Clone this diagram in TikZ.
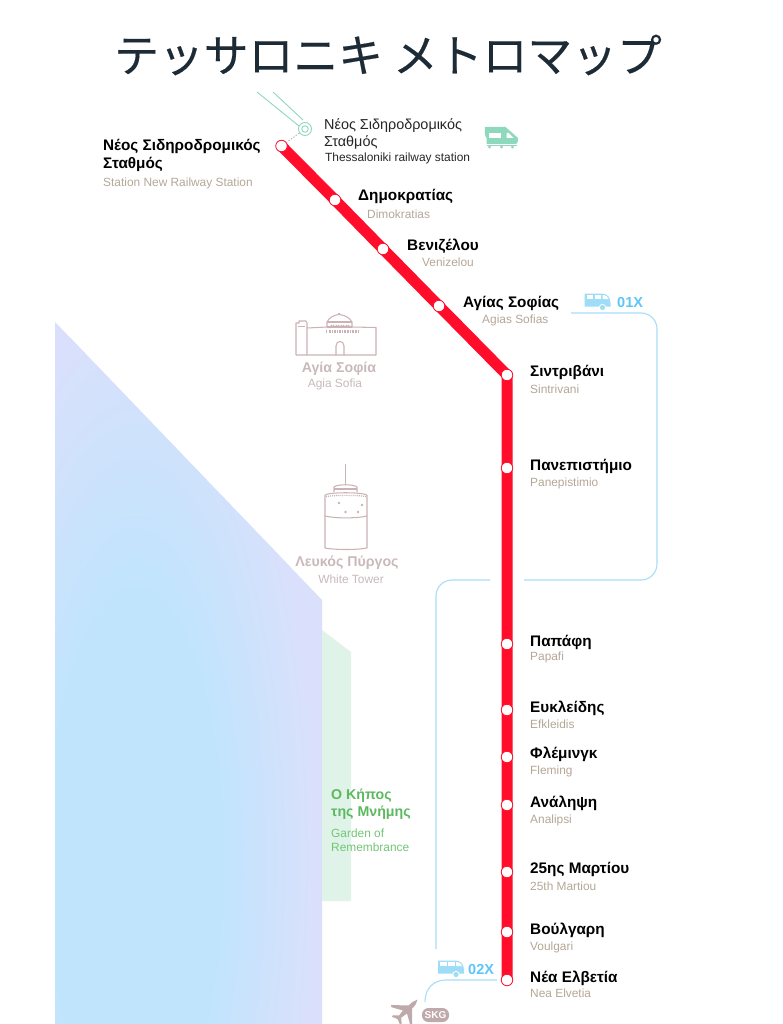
\documentclass[tikz,border=0pt]{standalone}
\usepackage{fontspec}
\setmainfont{Liberation Sans}
\newfontfamily\cjkfont[FakeBold=0.35]{Noto Sans CJK JP}
\definecolor{metrored}{HTML}{FF0D2A}
\definecolor{busblue}{HTML}{A8DEF8}
\definecolor{busicon}{HTML}{9FDCF7}
\definecolor{bustext}{HTML}{5CC6F8}
\definecolor{railgreen}{HTML}{8ED8BD}
\definecolor{tan}{HTML}{B5A797}
\definecolor{bldg}{HTML}{CBB3B5}
\definecolor{bldgtext}{HTML}{C9B9BB}
\definecolor{plane}{HTML}{BFA9AB}
\definecolor{gardenfill}{HTML}{DFF3E8}
\definecolor{gardenhead}{HTML}{5DB85F}
\definecolor{gardensub}{HTML}{74C677}
\definecolor{waterA}{HTML}{C1E4FD}
\definecolor{waterB}{HTML}{DAE0FB}
\definecolor{titleink}{HTML}{1C2B36}
\pgfdeclareradialshading{waterblob}{\pgfpoint{0bp}{0bp}}{color(0bp)=(waterA); color(12bp)=(waterA); color(25bp)=(waterB); color(50bp)=(waterB)}
\tikzset{
  metro/.style={draw=metrored,line width=11pt,line cap=round,line join=round},
  stn/.style={circle,draw=metrored,fill=white,line width=0.8pt,minimum size=11.5pt,inner sep=0pt},
  name el/.style={anchor=mid west,yshift=-2.5pt,inner sep=0pt,font=\fontsize{15.3}{17}\selectfont\bfseries,text=black},
  sub el/.style={anchor=mid west,yshift=-2.5pt,inner sep=0pt,font=\fontsize{11.9}{13}\selectfont,text=tan},
  rail el/.style={anchor=mid west,yshift=-2.5pt,inner sep=0pt,font=\fontsize{14.4}{16}\selectfont,text=black!85},
  bldg head/.style={anchor=mid,yshift=-2.5pt,inner sep=0pt,font=\fontsize{14.2}{16}\selectfont\bfseries,text=bldgtext},
  bldg sub/.style={anchor=mid,yshift=-2.5pt,inner sep=0pt,font=\fontsize{11.9}{13}\selectfont,text=bldgtext},
  garden head/.style={anchor=mid west,yshift=-2.5pt,inner sep=0pt,font=\fontsize{14.2}{16}\selectfont\bfseries,text=gardenhead},
  garden sub/.style={anchor=mid west,yshift=-2.5pt,inner sep=0pt,font=\fontsize{11.9}{13}\selectfont,text=gardensub},
  bus line/.style={draw=busblue,line width=1.1pt,rounded corners=16pt},
  bus label/.style={anchor=mid west,yshift=-2.5pt,inner sep=0pt,font=\fontsize{14.5}{16}\selectfont\bfseries,text=bustext},
  rail track/.style={draw=railgreen,line width=0.9pt},
  bldg line/.style={draw=bldg,line width=1.05pt,line join=round},
}
\newcommand{\busicon}[2]{%
  \begin{scope}[shift={(#1,#2)}]
    \fill[busicon] (0,0) -- (17,0) .. controls (23,0) and (26,4) .. (26,10) -- (26,13) -- (0,13) -- cycle;
    \fill[white] (2,1.6) rectangle (8.5,5.5);
    \fill[white] (10,1.6) rectangle (16.5,5.5);
    \fill[white] (18,1.6) -- (20,1.6) .. controls (22,2.2) and (23.5,3.8) .. (24,5.5) -- (18,5.5) -- cycle;
    \fill[white] (18,14) circle[radius=3.6];
    \fill[busicon] (18,14) circle[radius=2.6];
  \end{scope}}
\begin{document}
\begin{tikzpicture}[x=1pt,y=-1pt]
\path[use as bounding box,fill=white] (0,0) rectangle (783,1024);

% water area
\fill[waterB] (55,322) -- (322,600) -- (322,1024) -- (55,1024) -- cycle;
\begin{scope}
  \clip (55,322) -- (322,600) -- (322,1024) -- (55,1024) -- cycle;
  \shade[shading=waterblob] (135,860) ellipse [x radius=182,y radius=560];
\end{scope}
% garden
\fill[gardenfill] (322,630) -- (351,652) -- (351,901) -- (322,901) -- cycle;

% title
\node[inner sep=0pt,font=\fontsize{44.8}{50}\selectfont\cjkfont,text=titleink] (title) at (388,55) {テッサロニキ メトロマップ};

% rail link
\coordinate (ta) at (257,92);
\coordinate (tb) at (273,92);
\coordinate (tc) at (299,126);
\coordinate (td) at (303,120);
\draw[rail track] (ta) -- (tc);
\draw[rail track] (tb) -- (td);
\node[circle,draw=railgreen,fill=white,line width=0.9pt,minimum size=13pt,inner sep=0pt] (railstn) at (305,129) {};
\node[circle,draw=railgreen,line width=0.9pt,minimum size=6.5pt,inner sep=0pt] (railin) at (305,129) {};

% bus lines
\coordinate (b1a) at (571,313);
\coordinate (b1b) at (524,580);
\coordinate (b1c) at (490,580);
\coordinate (b1d) at (436,949);
\coordinate (b2a) at (497,980);
\coordinate (b2b) at (425,1002);
\draw[bus line] (b1a) -- (657,313) -- (657,580) -- (b1b);
\draw[bus line] (b1c) -- (436,580) -- (b1d);
\draw[draw=busblue,line width=1.1pt] (b2a) -- (446,980) .. controls (433,980) and (425,989) .. (b2b);

% metro line
\coordinate (s1) at (281.5,146);
\coordinate (s2) at (335,200);
\coordinate (s3) at (383,249);
\coordinate (s4) at (439,306);
\coordinate (s5) at (507,375);
\coordinate (s6) at (507,468);
\coordinate (s7) at (507,644);
\coordinate (s8) at (507,710);
\coordinate (s9) at (507,757);
\coordinate (s10) at (507,805);
\coordinate (s11) at (507,872);
\coordinate (s12) at (507,932);
\coordinate (s13) at (507,980);
\draw[metro] (s1) -- (s2) -- (s3) -- (s4) -- (s5) -- (s6) -- (s7) -- (s8) -- (s9) -- (s10) -- (s11) -- (s12) -- (s13);
\foreach \i in {1,...,13}{\node[stn] (st\i) at (s\i) {};}
\draw[gray!60,line width=0.8pt,dash pattern=on 1.5pt off 1.5pt] (railstn) -- (st1);

% station labels
\node[name el] (l1a) at (103,145) {Νέος Σιδηροδρομικός};
\node[name el] (l1b) at (103,163) {Σταθμός};
\node[sub el] (l1c) at (103,181) {Station New Railway Station};
\node[name el] (l2a) at (358,195) {Δημοκρατίας};
\node[sub el] (l2b) at (367,213) {Dimokratias};
\node[name el] (l3a) at (407,245) {Βενιζέλου};
\node[sub el] (l3b) at (422,261) {Venizelou};
\node[name el] (l4a) at (463,302) {Αγίας Σοφίας};
\node[sub el] (l4b) at (482,318) {Agias Sofias};
\node[name el] (l5a) at (530,371) {Σιντριβάνι};
\node[sub el] (l5b) at (530,388) {Sintrivani};
\node[name el] (l6a) at (530,465) {Πανεπιστήμιο};
\node[sub el] (l6b) at (530,481) {Panepistimio};
\node[name el] (l7a) at (530,641) {Παπάφη};
\node[sub el] (l7b) at (530,655) {Papafi};
\node[name el] (l8a) at (530,707) {Ευκλείδης};
\node[sub el] (l8b) at (530,723) {Efkleidis};
\node[name el] (l9a) at (530,753) {Φλέμινγκ};
\node[sub el] (l9b) at (530,769) {Fleming};
\node[name el] (l10a) at (530,802) {Ανάληψη};
\node[sub el] (l10b) at (530,818) {Analipsi};
\node[name el] (l11a) at (530,868) {25ης Μαρτίου};
\node[sub el] (l11b) at (530,885) {25th Martiou};
\node[name el] (l12a) at (530,929) {Βούλγαρη};
\node[sub el] (l12b) at (530,945) {Voulgari};
\node[name el] (l13a) at (530,977) {Νέα Ελβετία};
\node[sub el] (l13b) at (530,992) {Nea Elvetia};

% railway station text
\node[rail el] (r1) at (324,124) {Νέος Σιδηροδρομικός};
\node[rail el] (r2) at (324,141) {Σταθμός};
\node[rail el,font=\fontsize{11.9}{13}\selectfont] (r3) at (325,156) {Thessaloniki railway station};

% train icon
\begin{scope}[shift={(484.5,127)}]
  \fill[railgreen] (0.5,0) -- (21,0) -- (33.5,11) .. controls (34,13) and (33,17) .. (31,17) -- (2,17) -- (2,11) .. controls (0,9) and (0,3) .. (0.5,0) -- cycle;
  \fill[white] (4,6) rectangle (16.5,11);
  \fill[white] (22,6) -- (24,6) -- (29,11) -- (22,11) -- cycle;
  \fill[railgreen] (2,18) rectangle (32,19);
  \fill[railgreen] (5,20) circle[radius=1.6] (17,20) circle[radius=1.6] (28,20) circle[radius=1.6];
\end{scope}

% buses
\busicon{584.5}{293.5}
\node[bus label] (x1) at (617,302) {01X};
\busicon{438}{960.5}
\node[bus label] (x2) at (468,969) {02X};

% airport
\begin{scope}[shift={(405,1012)}]
  \fill[plane] (12.5,-12.5) .. controls (9,-11.5) and (6,-9) .. (3.5,-6.5) -- (-14,-7) -- (-13.5,-4.8) -- (-2,-1.5) -- (-6,3.5) -- (-12,3.2) -- (-13,4.8) -- (-7.5,7) -- (-5,12.5) -- (-3.4,11.5) -- (-3.8,5.6) -- (2,1.5) -- (5,12) -- (7,12) -- (7,-3.5) .. controls (10,-6) and (12,-9) .. (12.5,-12.5) -- cycle;
\end{scope}
\node[rounded corners=6.5pt,fill=plane,minimum width=27pt,minimum height=14pt,inner sep=0pt,text=white,font=\fontsize{10}{11}\selectfont\bfseries] (skg) at (435.5,1015) {SKG};

% Agia Sofia building
\draw[bldg line] (296,355) -- (296,323) -- (299,323) -- (299,321) -- (306,321) -- (307,323) -- (307,355);
\draw[bldg line] (296,355) -- (376,355) -- (376,327.5) -- (352,327) (327,327) -- (307,328);
\draw[bldg line] (327,327) -- (327,322) .. controls (329,317.5) and (334,315) .. (339,314.5) .. controls (344,315) and (350,317.5) .. (352,322) -- (352,327);
\draw[bldg line] (327,322) -- (352,322) (339,314.5) -- (339,313);
\draw[bldg line] (327,327) -- (352,327);
\foreach \wx in {331,336,341,346}{\draw[bldg line,line width=0.8pt] (\wx,327) -- (\wx,325) arc[start angle=180,end angle=0,radius=1.5] -- ++(0,2);}
\foreach \wx in {325.5,329,331.5,334,336.5,339,341.5,344,347,349.5,352,355,357.5}{\fill[bldg] (\wx,330) rectangle ++(1.6,2.6);}
\draw[bldg line] (336,355) -- (336,346) .. controls (336,340) and (344,340) .. (344,346) -- (344,355);
\draw[bldg line,line width=0.8pt] (298,326) -- (305,326);

% White Tower
\draw[bldg line] (345.5,464) -- (345.5,484);
\draw[bldg line] (334,492) -- (334,487) .. controls (337,484) and (354,484) .. (357,487) -- (357,492);
\draw[bldg line] (334,489) -- (357,489);
\draw[bldg line] (325,495) .. controls (330,492) and (361,492) .. (367,495);
\draw[bldg line] (325,495) -- (325,548) .. controls (335,550) and (357,550) .. (367,548) -- (367,495);
\draw[bldg line] (325,516) .. controls (335,518.5) and (357,518.5) .. (367,516);
\draw[bldg line,densely dotted,line width=1.2pt] (326,496.5) .. controls (335,495) and (357,495) .. (366,496.5);
\fill[bldg] (339,503) circle[radius=1.3] (362,505) circle[radius=1.3] (345.5,512) circle[radius=1.3] (358,512) circle[radius=1.3];

% landmark labels
\node[bldg head] (h1) at (339,367) {Αγία Σοφία};
\node[bldg sub] (h2) at (335,382) {Agia Sofia};
\node[bldg head] (h3) at (347,561) {Λευκός Πύργος};
\node[bldg sub] (h4) at (351,578) {White Tower};

% garden labels
\node[garden head] (g1) at (331,794) {Ο Κήπος};
\node[garden head] (g2) at (331,811) {της Μνήμης};
\node[garden sub] (g3) at (331,832) {Garden of};
\node[garden sub] (g4) at (331,846) {Remembrance};
\end{tikzpicture}
\end{document}
